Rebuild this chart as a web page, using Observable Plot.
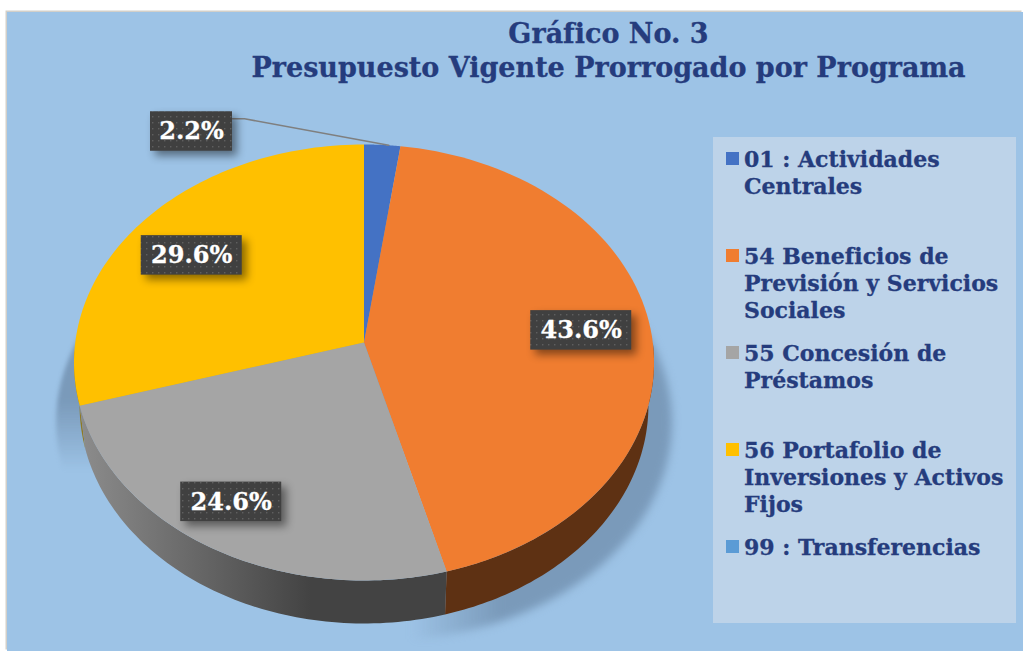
<!DOCTYPE html>
<html lang="es">
<head>
<meta charset="utf-8">
<script src="https://cdn.jsdelivr.net/npm/d3@7"></script>
<script src="https://cdn.jsdelivr.net/npm/@observablehq/plot@0.6"></script>
<style>
html,body{margin:0;padding:0;width:1023px;height:651px;overflow:hidden;background:#fff}
#panel{position:absolute;left:7px;top:12px;width:1016px;height:639px;background:#9dc3e6;box-shadow:-1.5px -1.5px 0 #d2cfc9}
#chart{position:absolute;left:0;top:0}
.t{position:absolute;font-family:"DejaVu Serif",serif;font-weight:700;color:#253c7d;white-space:nowrap;line-height:1;-webkit-text-stroke:.3px #253c7d}
#box{position:absolute;left:713px;top:137px;width:303px;height:486px;background:#bdd3e9}
.sw{position:absolute;left:726px;width:13px;height:13px}
</style>
</head>
<body>
<div id="panel"></div>
<div id="box"></div>
<div id="chart"></div>
<script>
// ---- data ----
const categories = ["01 : Actividades Centrales", "54 Beneficios de Previsión y Servicios Sociales", "55 Concesión de Préstamos", "56 Portafolio de Inversiones y Activos Fijos", "99 : Transferencias"];
const values = [2.2, 43.6, 24.6, 29.6, 0];
const colors = ["#4472c4", "#f07d30", "#a5a5a5", "#ffc000", "#5b9bd5"];
const legendLines = [["01 : Actividades", "Centrales"], ["54 Beneficios de", "Previsión y Servicios", "Sociales"], ["55 Concesión de", "Préstamos"], ["56 Portafolio de", "Inversiones y Activos", "Fijos"], ["99 : Transferencias"]];
const titleLines = ["Gráfico No. 3", "Presupuesto Vigente Prorrogado por Programa"];

// ---- perspective pie: unit circle -> tilted disc, in radius units ----
const W = 1023, H = 651, A = 288.8, CX = 363.5, CY = 362;
const K = -0.0917, B = 218 / A, C = -20 / A;
function project(deg, r = 1, depth = 0) {
  const t = deg * Math.PI / 180, x = r * Math.sin(t), y = -r * Math.cos(t), d = 1 + K * y;
  const sq = 1 - depth * 0.13;              // the lower rim is slightly narrower
  return {x: sq * x / d, y: (B * y + C) / d + depth};
}
const DEPTH = 43 / A;
const cum = d3.cumsum(values).map(v => v * 3.6);
const start = i => i ? cum[i - 1] : 0;
const arc = (a, b, r = 1, depth = 0) => d3.range(0, 81).map(j => project(a + (b - a) * j / 80, r, depth));

const slices = [];
values.forEach((v, i) => {
  if (!v) return;
  [project(0, 0), ...arc(start(i), cum[i])].forEach(p => slices.push({...p, category: categories[i]}));
});
const wall = (a, b) => [...arc(a, b), ...arc(a, b, 1, DEPTH).reverse()];
const wallOrange = wall(90, cum[1]);
const wallGray = wall(cum[1], cum[2]);
const wallYellow = wall(cum[2], 268);

// shadows are the rim shifted below the disc
const shadowRim = (sx) => d3.range(0, 121).map(j => {
  const p = project(j * 3, 1);
  return {x: p.x + sx / A, y: p.y + 60 / A};
});

// data labels
const mid = (i, r, dx, dy) => { const p = project(start(i) + values[i] * 1.8, r); return {cx: p.x + dx / A, cy: p.y + dy / A}; };
const labelSpec = [
  {text: "2.2%",  w: 82,  cx: (191 - CX) / A, cy: (131 - CY) / A},
  {text: "43.6%", w: 101, ...mid(1, .75, 2, -2)},
  {text: "24.6%", w: 101, ...mid(2, .8, -12.5, -2)},
  {text: "29.6%", w: 101, ...mid(3, .75, -5.5, 6)}
];
const rowH = 39.5 / A;
const rects = labelSpec.map(l => ({x1: l.cx - l.w / 2 / A, x2: l.cx + l.w / 2 / A, y1: l.cy - rowH / 2, y2: l.cy + rowH / 2, text: l.text, cx: l.cx, cy: l.cy}));
const blueMid = project(start(0) + values[0] * 1.8 + 1.4, 1);
const leader = [
  {x: rects[0].x2, y: rects[0].y1 + 7 / A},
  {x: rects[0].x2 + 12 / A, y: rects[0].y1 + 7 / A},
  blueMid
];

function defs() {
  const svg = d3.create("svg:g");
  const d = svg.append("defs");
  const lg = d.append("linearGradient").attr("id", "gw").attr("gradientUnits", "userSpaceOnUse")
    .attr("x1", 80).attr("x2", 310).attr("y1", 0).attr("y2", 0);
  lg.append("stop").attr("offset", 0).attr("stop-color", "#8c8c8c");
  lg.append("stop").attr("offset", 1).attr("stop-color", "#434343");
  const sr = d.append("linearGradient").attr("id", "sr").attr("gradientUnits", "userSpaceOnUse")
    .attr("x1", 410).attr("x2", 500).attr("y1", 0).attr("y2", 0);
  sr.append("stop").attr("offset", 0).attr("stop-color", "#7a9aba").attr("stop-opacity", 0);
  sr.append("stop").attr("offset", 1).attr("stop-color", "#7a9aba").attr("stop-opacity", 1);
  const sl = d.append("linearGradient").attr("id", "sl").attr("gradientUnits", "userSpaceOnUse")
    .attr("x1", 0).attr("x2", 0).attr("y1", 400).attr("y2", 470);
  sl.append("stop").attr("offset", 0).attr("stop-color", "#7a9aba").attr("stop-opacity", 1);
  sl.append("stop").attr("offset", 1).attr("stop-color", "#7a9aba").attr("stop-opacity", 0);
  const p = d.append("pattern").attr("id", "dots").attr("patternUnits", "userSpaceOnUse").attr("width", 6).attr("height", 6);
  p.append("rect").attr("width", 6).attr("height", 6).attr("fill", "#404040");
  p.append("rect").attr("x", 2).attr("y", 2).attr("width", 1.4).attr("height", 1.4).attr("fill", "#5f5f5f");
  return svg.node();
}

const plot = Plot.plot({
  width: W, height: H, margin: 0,
  style: {background: "transparent"},
  x: {domain: [-CX / A, (W - CX) / A], range: [0, W], axis: null},
  y: {domain: [-CY / A, (H - CY) / A], range: [0, H], axis: null},
  color: {type: "ordinal", domain: categories, range: colors},
  marks: [
    defs,
    Plot.line(shadowRim(18), {x: "x", y: "y", fill: "url(#sr)", stroke: "none", curve: "linear-closed", imageFilter: "blur(4px)"}),
    Plot.line(shadowRim(-18), {x: "x", y: "y", fill: "url(#sl)", stroke: "none", curve: "linear-closed", imageFilter: "blur(2px)"}),
    Plot.line(wallYellow, {x: "x", y: "y", fill: "#8f7a25", stroke: "none", curve: "linear-closed"}),
    Plot.line(wallGray, {x: "x", y: "y", fill: "url(#gw)", stroke: "none", curve: "linear-closed"}),
    Plot.line(wallOrange, {x: "x", y: "y", fill: "#5e3113", stroke: "none", curve: "linear-closed"}),
    Plot.line(slices, {x: "x", y: "y", z: "category", fill: "category", stroke: "none", curve: "linear-closed"}),
    Plot.line(leader, {x: "x", y: "y", stroke: "#7f7f7f", strokeWidth: 1.5, curve: "linear"}),
    Plot.rect(rects, {x1: "x1", x2: "x2", y1: "y1", y2: "y2", fill: "url(#dots)", imageFilter: "drop-shadow(5px 5px 4px rgba(0,0,0,.45))"}),
    Plot.text(rects, {x: "cx", y: "cy", text: "text", fill: "white", stroke: "white", strokeWidth: 0.3, fontFamily: "DejaVu Serif", fontWeight: 700, fontSize: 24})
  ]
});
document.getElementById("chart").append(plot);

// ---- title and legend ----
function put(text, left, base, size, center) {
  const el = document.createElement("div");
  el.className = "t";
  el.textContent = text;
  el.style.fontSize = size + "px";
  el.style.top = (base - size * 0.82) + "px";
  if (center) { el.style.left = left + "px"; el.style.transform = "translateX(-50%)"; }
  else el.style.left = left + "px";
  document.body.append(el);
}
put(titleLines[0], 608.5, 42, 27, true);
put(titleLines[1], 608.5, 76, 27, true);
const lineStarts = [166, 263, 360, 457, 554];
legendLines.forEach((lines, i) => {
  const sw = document.createElement("div");
  sw.className = "sw";
  sw.style.top = (lineStarts[i] - 14) + "px";
  sw.style.background = colors[i];
  document.body.append(sw);
  lines.forEach((s, j) => put(s, 744, lineStarts[i] + 27 * j, 22));
});
</script>
</body>
</html>
